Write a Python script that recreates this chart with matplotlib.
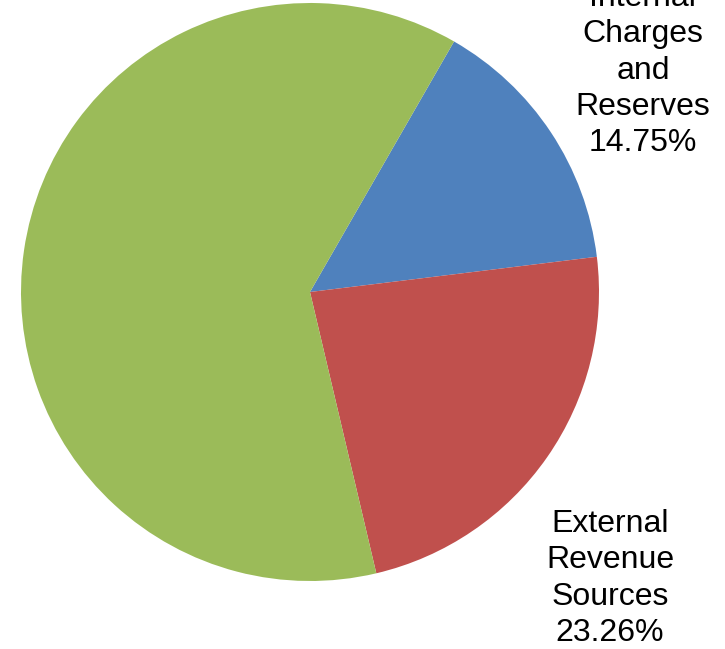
import matplotlib.pyplot as plt

plt.rcParams['font.family'] = ['Liberation Sans', 'DejaVu Sans']

# slice data, clockwise from the blue wedge
names = ["Internal\nCharges\nand\nReserves", "External\nRevenue\nSources", ""]
shares = [14.75, 23.26, 61.99]
colors = ["#4F81BD", "#C0504D", "#9BBB59"]
# where each label block sits (data units, pie radius = 1)
label_xy = [(1.152, 0.766), (1.038, -0.991), (-1.13, 1.047)]

fig = plt.figure(figsize=(7.25, 6.49), dpi=100)
ax = fig.add_axes([21 / 725, 68 / 649, 578 / 725, 578 / 649])

ax.pie(shares, colors=colors, startangle=60.1, counterclock=False,
       radius=1.0, wedgeprops=dict(linewidth=0))
ax.set_xlim(-1, 1)
ax.set_ylim(-1, 1)
ax.set_aspect('equal')
ax.axis('off')

for name, val, (x, y) in zip(names, shares, label_xy):
    txt = f"{name}\n{val:.2f}%" if name else f"{val:.2f}%"
    ax.text(x, y, txt, ha='center', va='center', multialignment='center',
            fontsize=23, linespacing=1.27, color='black', clip_on=False)

fig.savefig("out.png", dpi=100)
